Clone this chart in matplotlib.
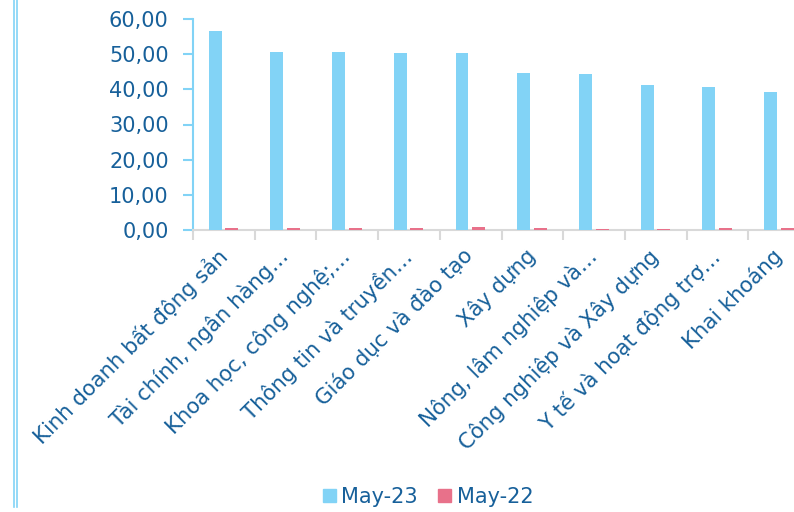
import matplotlib
matplotlib.use("Agg")
import matplotlib.pyplot as plt
import matplotlib.transforms as mtransforms
import numpy as np
from matplotlib.lines import Line2D
from matplotlib.patches import Patch

categories = [
    "Kinh doanh bất động sản",
    "Tài chính, ngân hàng…",
    "Khoa học, công nghệ;…",
    "Thông tin và truyền…",
    "Giáo dục và đào tạo",
    "Xây dựng",
    "Nông, lâm nghiệp và…",
    "Công nghiệp và Xây dựng",
    "Y tế và hoạt động trợ…",
    "Khai khoáng",
]
may23 = [56.7, 50.6, 50.6, 50.3, 50.2, 44.7, 44.5, 41.1, 40.8, 39.2]
may22 = [0.5, 0.7, 0.5, 0.5, 0.8, 0.5, 0.2, 0.4, 0.6, 0.5]
yticks = [0, 10, 20, 30, 40, 50, 60]
series_names = ["May-23", "May-22"]

BLUE = "#82D3F6"
PINK = "#E8718A"
TEXT = "#17609A"
SPINE_BLUE = "#82D3F6"
GRAY = "#D9D9D9"

plt.rcParams["font.family"] = ["DejaVu Sans"]

fig = plt.figure(figsize=(7.94, 5.12), dpi=100)
ax = fig.add_axes([193 / 794, 1 - 230 / 512, 617 / 794, 211 / 512])
ax.patch.set_alpha(0)

x = np.arange(len(categories))
w = 0.21
ax.bar(x - 0.14, may23, width=w, color=BLUE, zorder=3)
ax.bar(x + 0.13, may22, width=w, color=PINK, zorder=3)

ax.set_xlim(-0.5, len(categories) - 0.5)
ax.set_ylim(0, 60)
ax.set_yticks(yticks)
ax.set_yticklabels([f"{v:.2f}".replace(".", ",") for v in yticks],
                   color=TEXT, fontsize=15)
ax.tick_params(axis="y", length=7, width=1.5, color=SPINE_BLUE, pad=10.5)

ax.set_xticks(x)
ax.set_xticklabels(categories, rotation=45, ha="right", va="top",
                   rotation_mode="anchor", color=TEXT, fontsize=15.3)
ax.tick_params(axis="x", which="major", length=0, pad=11)
offset = mtransforms.ScaledTranslation(-8 / 100, 0, fig.dpi_scale_trans)
for lbl in ax.get_xticklabels():
    lbl.set_transform(lbl.get_transform() + offset)
ax.set_xticks(np.arange(-0.5, len(categories), 1.0), minor=True)
ax.tick_params(axis="x", which="minor", length=7, width=1.5, color=GRAY)

for s in ["top", "right"]:
    ax.spines[s].set_visible(False)
ax.spines["left"].set_color(SPINE_BLUE)
ax.spines["left"].set_linewidth(1.5)
ax.spines["bottom"].set_color(GRAY)
ax.spines["bottom"].set_linewidth(1.5)

# decorative left border
for px in (13.5, 17.0):
    fig.add_artist(Line2D([px / 794, px / 794], [0.01, 1.0],
                          transform=fig.transFigure, color=SPINE_BLUE, lw=1.2))

handles = [Patch(color=BLUE), Patch(color=PINK)]
fig.legend(handles, series_names, loc="center", bbox_to_anchor=(428 / 794, 1 - 497 / 512),
           ncol=2, frameon=False, fontsize=15, labelcolor=TEXT,
           handlelength=0.62, handleheight=0.62, handletextpad=0.25, columnspacing=1.0)

fig.savefig("out.png", dpi=100)
